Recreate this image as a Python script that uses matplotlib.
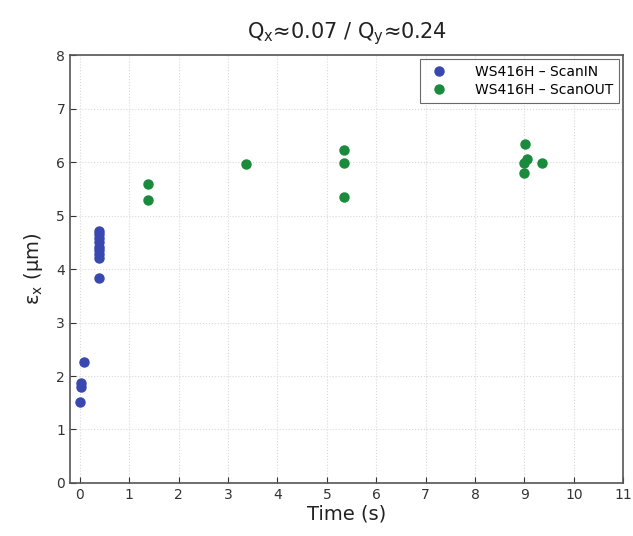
import matplotlib
matplotlib.use("Agg")
import matplotlib.pyplot as plt

# data
t_in = [0.01, 0.02, 0.03, 0.08, 0.38, 0.38, 0.38, 0.38, 0.38, 0.38, 0.38, 0.38, 0.38]
eps_in = [1.52, 1.80, 1.87, 2.26, 4.72, 4.65, 4.58, 4.50, 4.42, 4.35, 4.28, 4.20, 3.84]

t_out = [1.38, 1.38, 3.37, 5.35, 5.35, 5.35, 9.01, 9.05, 9.00, 8.99, 9.35]
eps_out = [5.59, 5.29, 5.96, 6.22, 5.98, 5.34, 6.34, 6.06, 5.98, 5.79, 5.98]

labels = ["WS416H \u2013 ScanIN", "WS416H \u2013 ScanOUT"]

fig = plt.figure(figsize=(6.33, 5.36), dpi=100)
ax = fig.add_axes([0.1106, 0.099, 0.874, 0.798])

ax.plot(t_in, eps_in, "o", color="#3848b0", markersize=6.5, label=labels[0])
ax.plot(t_out, eps_out, "o", color="#1a8a3c", markersize=6.5, label=labels[1])

ax.set_xlim(-0.2, 11)
ax.set_ylim(0, 8)
ax.set_xticks(range(0, 12))
ax.set_yticks(range(0, 9))
ax.grid(True, linestyle=":", color="#d8d8d8", linewidth=0.8)
ax.tick_params(direction="in", labelsize=10, colors="#333333", length=4)
for s in ax.spines.values():
    s.set_color("#555555")
    s.set_linewidth(1.2)

ax.set_xlabel("Time (s)", fontsize=14, color="#222222", labelpad=2)
ax.set_ylabel("\u03b5$_\\mathrm{x}$ (\u03bcm)", fontsize=14, color="#222222", labelpad=8)
ax.set_title("Q$_\\mathrm{x}$\u22480.07 / Q$_\\mathrm{y}$\u22480.24", fontsize=15,
             color="#222222", pad=12)

leg = ax.legend(loc="upper right", fontsize=10, frameon=True, fancybox=False,
                edgecolor="#444444", handletextpad=1.6, borderpad=0.4,
                labelspacing=0.3, borderaxespad=0.3)
leg.get_frame().set_linewidth(0.8)

fig.savefig("out.png", dpi=100)
